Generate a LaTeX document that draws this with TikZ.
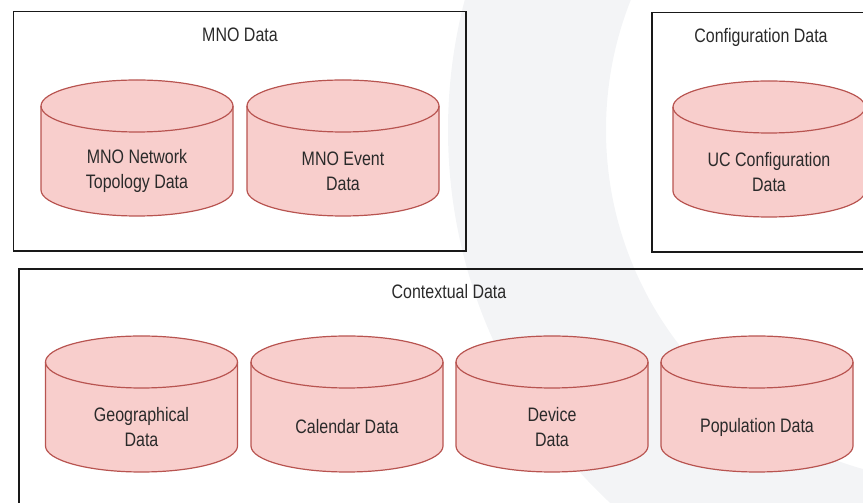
\documentclass[tikz,border=0pt]{standalone}
\usepackage{fontspec}
\setmainfont{Liberation Sans}[FakeStretch=0.82]
\definecolor{cylfill}{HTML}{F8CECC}
\definecolor{cylline}{HTML}{B85450}
\definecolor{txt}{HTML}{2A2A2A}
\definecolor{bgray}{HTML}{F3F4F6}
\newcommand\dbcyl[4]{%
  \fill[cylfill] (#2-96,#3-26) -- (#2-96,#3-110) arc[start angle=180,end angle=360,x radius=96,y radius=26] -- (#2+96,#3-26) arc[start angle=0,end angle=180,x radius=96,y radius=26] -- cycle;
  \draw[cylstroke] (#2-96,#3-26) -- (#2-96,#3-110) arc[start angle=180,end angle=360,x radius=96,y radius=26] -- (#2+96,#3-26) arc[start angle=0,end angle=180,x radius=96,y radius=26];
  \draw[cylstroke] (#2-96,#3-26) arc[start angle=180,end angle=360,x radius=96,y radius=26];
  \node[cyltext] (#1) at (#2,#3-91) {#4};
}
\tikzset{
  cylstroke/.style={draw=cylline,line width=1.2pt},
  cyltext/.style={text=txt,font=\fontsize{19.5}{25}\selectfont,align=center,inner sep=0pt},
  groupbox/.style={draw=black!90,line width=1.3pt},
  grouptitle/.style={text=txt,font=\fontsize{19.5}{22}\selectfont,inner sep=0pt},
}
\begin{document}
\begin{tikzpicture}[x=1pt,y=1pt]
\useasboundingbox (0,0) rectangle (863,503);
\clip (0,0) rectangle (863,503);
% faint background crescent
\fill[bgray,even odd rule] (958,373) circle[radius=510] (958,373) circle[radius=352];
% group boxes
\draw[groupbox] (13.5,491.5) rectangle (466,252);
\node[grouptitle] (tmno) at (240,468) {MNO Data};
\draw[groupbox] (652,490.5) rectangle (875,251);
\node[grouptitle] (tconf) at (761,466) {Configuration Data};
\draw[groupbox] (19,234) rectangle (880,-20);
\node[grouptitle] (tctx) at (449,211) {Contextual Data};
% cylinders
\dbcyl{topo}{137}{423}{MNO Network\\Topology Data}
\dbcyl{event}{343}{423}{MNO Event\\Data}
\dbcyl{ucconf}{769}{422}{UC Configuration\\Data}
\dbcyl{geo}{141.5}{167}{Geographical\\Data}
\dbcyl{cal}{347}{167}{Calendar Data}
\dbcyl{dev}{552}{167}{Device\\Data}
\dbcyl{pop}{757}{167}{Population Data}
\end{tikzpicture}
\end{document}
